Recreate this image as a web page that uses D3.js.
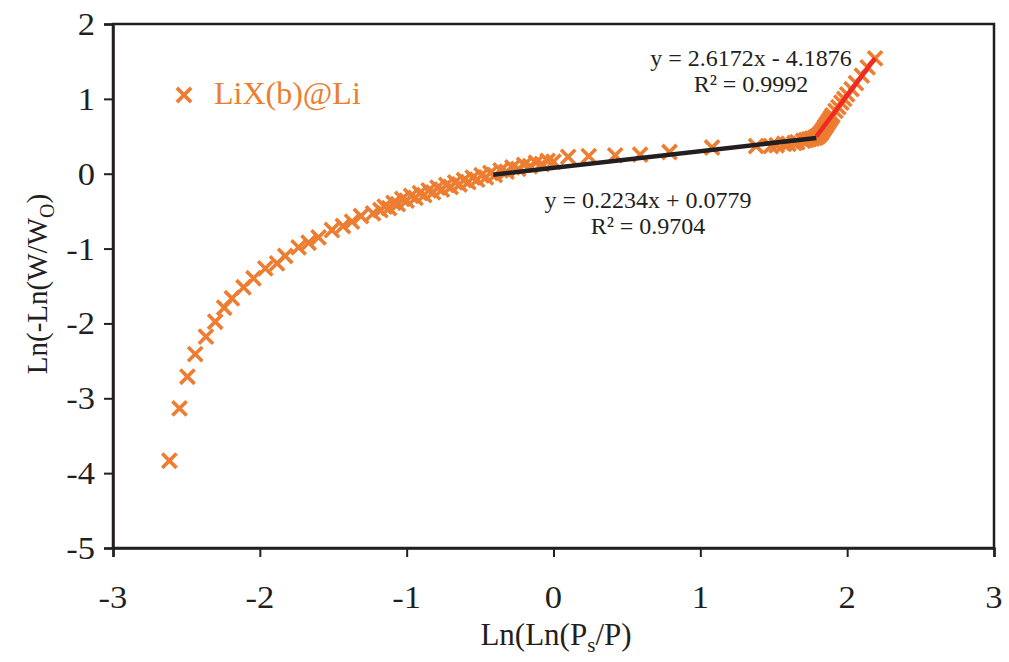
<!DOCTYPE html>
<html>
<head>
<meta charset="utf-8">
<script src="https://cdn.jsdelivr.net/npm/d3@7/dist/d3.min.js"></script>
</head>
<body style="margin:0;background:#fff">
<svg id="chart" width="1009" height="662" style="display:block"></svg>
<script>
// ---- data ----
const seriesName = "LiX(b)@Li";
const xValues = [
  -2.616,-2.547,-2.493,-2.440,-2.367,-2.304,-2.243,-2.190,-2.111,-2.043,-1.963,-1.883,-1.827,-1.736,-1.668,-1.600,-1.509,-1.434,-1.372,-1.311,-1.229,-1.179,
  -1.15,-1.12,-1.09,-1.06,-1.03,-1.00,-0.97,-0.94,-0.91,-0.88,-0.85,-0.82,-0.79,-0.76,-0.73,-0.70,-0.67,-0.64,-0.61,-0.58,-0.55,-0.52,-0.49,-0.46,-0.43,
  -0.40,-0.36,-0.32,-0.28,-0.24,-0.20,-0.16,-0.12,-0.08,-0.04,0.00,0.10,0.24,0.42,0.59,0.79,1.08,1.38,1.48,1.52,1.57,1.60,1.64,1.66,1.70,1.72,1.74,1.76,1.78,1.79,
  1.80,1.81,1.82,1.83,1.84,1.85,1.86,1.87,1.88,1.89,1.90,1.92,1.94,1.96,1.98,2.00,2.03,2.06,2.10,2.14,2.19
];
const yValues = [
  -3.834,-3.134,-2.712,-2.409,-2.177,-1.977,-1.790,-1.664,-1.517,-1.397,-1.264,-1.197,-1.099,-0.983,-0.922,-0.850,-0.752,-0.699,-0.641,-0.565,-0.529,-0.485,
  -0.440,-0.459,-0.390,-0.407,-0.336,-0.360,-0.296,-0.322,-0.260,-0.285,-0.223,-0.249,-0.186,-0.212,-0.150,-0.177,-0.116,-0.144,-0.084,-0.112,-0.052,-0.080,-0.020,-0.048,0.012,
  -0.018,0.045,0.028,0.085,0.065,0.118,0.100,0.148,0.130,0.170,0.160,0.225,0.235,0.245,0.255,0.290,0.350,0.370,0.370,0.380,0.400,0.400,0.410,0.420,0.440,0.450,0.460,0.470,0.480,0.490,
  0.500,0.520,0.540,0.570,0.600,0.630,0.660,0.690,0.720,0.750,0.780,0.840,0.890,0.950,1.000,1.060,1.130,1.210,1.310,1.420,1.540
];
// trendlines: [slope, intercept, xStart, xEnd]
const trendLinear1 = [0.2234, 0.0779, -0.41, 1.79];
const trendLinear2 = [2.6172, -4.1876, 1.79, 2.19];
const trendLabels1 = ["y = 0.2234x + 0.0779", "R² = 0.9704"];
const trendLabels2 = ["y = 2.6172x - 4.1876", "R² = 0.9992"];
const xTicks = [-3, -2, -1, 0, 1, 2, 3];
const yTicks = [-5, -4, -3, -2, -1, 0, 1, 2];
const xTitle = ["Ln(Ln(P", "s", "/P)"];
const yTitle = ["Ln(-Ln(W/W", "O", ")"];

// ---- layout ----
const FONT = '"Liberation Serif"';
const plot = { left: 113, right: 994, top: 24, bottom: 548 };
const orange = "#ED7D31";
const ink = "#231F20";

const svg = d3.select("#chart");
const x = d3.scaleLinear().domain([-3, 3]).range([plot.left, plot.right]);
const y = d3.scaleLinear().domain([-5, 2]).range([plot.bottom, plot.top]);

function txt(parent, px, py, s, size, anchor, color) {
  return parent.append("text")
    .attr("x", px).attr("y", py)
    .attr("text-anchor", anchor || "start")
    .attr("fill", color || ink)
    .style("font-family", FONT)
    .style("font-size", size + "px")
    .text(s);
}
function stretched(parent, px, py, s, size, anchor, sx) {
  return txt(parent, 0, 0, s, size, anchor).attr("transform", `translate(${px},${py}) scale(${sx},1)`);
}

// frame
svg.append("rect")
  .attr("x", plot.left).attr("y", plot.top)
  .attr("width", plot.right - plot.left).attr("height", plot.bottom - plot.top)
  .attr("fill", "none").attr("stroke", ink).attr("stroke-width", 2.5);

// axes (lines + ticks from d3 axes, labels placed with the scales)
const xAxis = svg.append("g")
  .attr("transform", `translate(0,${plot.bottom})`)
  .call(d3.axisBottom(x).tickValues(xTicks).tickSize(9).tickFormat(""));
const yAxis = svg.append("g")
  .attr("transform", `translate(${plot.left},0)`)
  .call(d3.axisLeft(y).tickValues(yTicks).tickSize(9).tickFormat(""));
[xAxis, yAxis].forEach(g => {
  g.select(".domain").attr("stroke", ink).attr("stroke-width", 2.5);
  g.selectAll(".tick line").attr("stroke", ink).attr("stroke-width", 2);
});
const xLab = svg.append("g");
xTicks.forEach(t => stretched(xLab, x(t), 608, String(t), 32, "middle", 1.08));
const yLab = svg.append("g");
yTicks.forEach(t => stretched(yLab, 95, y(t) + 11, String(t), 32, "end", 1.08));

// points
const data = xValues.map((v, i) => ({ x: v, y: yValues[i] }));
const cross = d3.symbol().type(d3.symbolX).size(135);
svg.append("g").selectAll("path")
  .data(data).join("path")
  .attr("transform", d => `translate(${x(d.x)},${y(d.y)})`)
  .attr("d", cross)
  .attr("fill", "none")
  .attr("stroke", orange)
  .attr("stroke-width", 3.6);

// trendlines
function drawTrend(t, color) {
  const pts = [t[2], t[3]].map(v => [x(v), y(t[0] * v + t[1])]);
  svg.append("path")
    .attr("d", d3.line()(pts))
    .attr("stroke", color).attr("stroke-width", 4.5).attr("fill", "none");
}
drawTrend(trendLinear1, ink);
drawTrend(trendLinear2, "#EE2A24");

// trendline labels
function drawLabels(lines, cx, by) {
  const g = svg.append("g");
  lines.forEach((s, i) => txt(g, cx, by + i * 25.5, s, 24, "middle"));
}
drawLabels(trendLabels2, 751, 66);
drawLabels(trendLabels1, 648, 208);

// legend
svg.append("path")
  .attr("transform", `translate(184,95)`)
  .attr("d", cross)
  .attr("fill", "none").attr("stroke", orange).attr("stroke-width", 3.6);
txt(svg, 214, 104, seriesName, 32, "start", orange);

// axis titles
const xt = txt(svg, 556, 645, "", 31, "middle");
xt.append("tspan").text(xTitle[0]);
xt.append("tspan").attr("dy", 7).style("font-size", "21px").text(xTitle[1]);
xt.append("tspan").attr("dy", -7).text(xTitle[2]);

const yt = txt(svg, 0, 0, "", 29, "middle").attr("transform", `translate(47,284) rotate(-90)`);
yt.append("tspan").text(yTitle[0]);
yt.append("tspan").attr("dy", 7).style("font-size", "20px").text(yTitle[1]);
yt.append("tspan").attr("dy", -7).text(yTitle[2]);
</script>
</body>
</html>
